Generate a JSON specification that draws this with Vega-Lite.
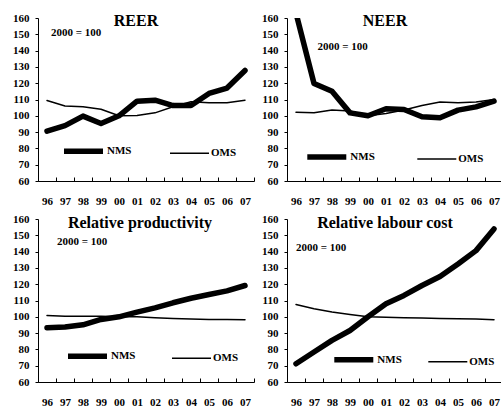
{
  "$schema": "https://vega.github.io/schema/vega-lite/v6.json",
  "background": "white",
  "padding": {"left": 12, "top": 12, "right": 0, "bottom": 0},
  "datasets": {
    "reer": [
      {"year": "96", "series": "NMS", "value": 90.6}, {"year": "97", "series": "NMS", "value": 94}, {"year": "98", "series": "NMS", "value": 99.8}, {"year": "99", "series": "NMS", "value": 95.3}, {"year": "00", "series": "NMS", "value": 100}, {"year": "01", "series": "NMS", "value": 109}, {"year": "02", "series": "NMS", "value": 109.6}, {"year": "03", "series": "NMS", "value": 106.3}, {"year": "04", "series": "NMS", "value": 106.3}, {"year": "05", "series": "NMS", "value": 113.7}, {"year": "06", "series": "NMS", "value": 117}, {"year": "07", "series": "NMS", "value": 127.8},
      {"year": "96", "series": "OMS", "value": 109.4}, {"year": "97", "series": "OMS", "value": 106}, {"year": "98", "series": "OMS", "value": 105.5}, {"year": "99", "series": "OMS", "value": 104}, {"year": "00", "series": "OMS", "value": 100}, {"year": "01", "series": "OMS", "value": 100.2}, {"year": "02", "series": "OMS", "value": 101.8}, {"year": "03", "series": "OMS", "value": 105.5}, {"year": "04", "series": "OMS", "value": 108.6}, {"year": "05", "series": "OMS", "value": 108}, {"year": "06", "series": "OMS", "value": 108}, {"year": "07", "series": "OMS", "value": 109.6}
    ],
    "neer": [
      {"year": "96", "series": "NMS", "value": 163}, {"year": "97", "series": "NMS", "value": 119.8}, {"year": "98", "series": "NMS", "value": 115}, {"year": "99", "series": "NMS", "value": 101.8}, {"year": "00", "series": "NMS", "value": 100}, {"year": "01", "series": "NMS", "value": 104.3}, {"year": "02", "series": "NMS", "value": 103.9}, {"year": "03", "series": "NMS", "value": 99.4}, {"year": "04", "series": "NMS", "value": 98.8}, {"year": "05", "series": "NMS", "value": 103.5}, {"year": "06", "series": "NMS", "value": 105.5}, {"year": "07", "series": "NMS", "value": 109},
      {"year": "96", "series": "OMS", "value": 102.2}, {"year": "97", "series": "OMS", "value": 101.8}, {"year": "98", "series": "OMS", "value": 103.5}, {"year": "99", "series": "OMS", "value": 102.9}, {"year": "00", "series": "OMS", "value": 100}, {"year": "01", "series": "OMS", "value": 101.4}, {"year": "02", "series": "OMS", "value": 103.5}, {"year": "03", "series": "OMS", "value": 106.3}, {"year": "04", "series": "OMS", "value": 108.4}, {"year": "05", "series": "OMS", "value": 108}, {"year": "06", "series": "OMS", "value": 108.4}, {"year": "07", "series": "OMS", "value": 110}
    ],
    "prod": [
      {"year": "96", "series": "NMS", "value": 93.3}, {"year": "97", "series": "NMS", "value": 93.7}, {"year": "98", "series": "NMS", "value": 95.1}, {"year": "99", "series": "NMS", "value": 98.4}, {"year": "00", "series": "NMS", "value": 100}, {"year": "01", "series": "NMS", "value": 102.9}, {"year": "02", "series": "NMS", "value": 105.5}, {"year": "03", "series": "NMS", "value": 108.6}, {"year": "04", "series": "NMS", "value": 111.4}, {"year": "05", "series": "NMS", "value": 113.7}, {"year": "06", "series": "NMS", "value": 115.9}, {"year": "07", "series": "NMS", "value": 119.2},
      {"year": "96", "series": "OMS", "value": 100.8}, {"year": "97", "series": "OMS", "value": 100.4}, {"year": "98", "series": "OMS", "value": 100.4}, {"year": "99", "series": "OMS", "value": 100.4}, {"year": "00", "series": "OMS", "value": 100}, {"year": "01", "series": "OMS", "value": 100}, {"year": "02", "series": "OMS", "value": 99.4}, {"year": "03", "series": "OMS", "value": 99}, {"year": "04", "series": "OMS", "value": 98.6}, {"year": "05", "series": "OMS", "value": 98.4}, {"year": "06", "series": "OMS", "value": 98.4}, {"year": "07", "series": "OMS", "value": 98.2}
    ],
    "ulc": [
      {"year": "96", "series": "NMS", "value": 71.2}, {"year": "97", "series": "NMS", "value": 78.4}, {"year": "98", "series": "NMS", "value": 85.5}, {"year": "99", "series": "NMS", "value": 91.6}, {"year": "00", "series": "NMS", "value": 100}, {"year": "01", "series": "NMS", "value": 108}, {"year": "02", "series": "NMS", "value": 113.1}, {"year": "03", "series": "NMS", "value": 119.2}, {"year": "04", "series": "NMS", "value": 124.7}, {"year": "05", "series": "NMS", "value": 132.4}, {"year": "06", "series": "NMS", "value": 140.6}, {"year": "07", "series": "NMS", "value": 153.9},
      {"year": "96", "series": "OMS", "value": 107.6}, {"year": "97", "series": "OMS", "value": 104.9}, {"year": "98", "series": "OMS", "value": 102.9}, {"year": "99", "series": "OMS", "value": 101.4}, {"year": "00", "series": "OMS", "value": 100}, {"year": "01", "series": "OMS", "value": 99.8}, {"year": "02", "series": "OMS", "value": 99.4}, {"year": "03", "series": "OMS", "value": 99.2}, {"year": "04", "series": "OMS", "value": 99}, {"year": "05", "series": "OMS", "value": 98.8}, {"year": "06", "series": "OMS", "value": 98.6}, {"year": "07", "series": "OMS", "value": 98.2}
    ],
    "note": [{"label": "2000 = 100"}]
  },
  "columns": 2,
  "spacing": {"row": 7, "column": 6},
  "resolve": {"scale": {"strokeWidth": "independent"}, "legend": {"strokeWidth": "independent"}},
  "concat": [
    {
      "width": 216, "height": 163,
      "title": {"text": "REER", "offset": -17, "dx": -10},
      "layer": [
        {
          "data": {"name": "reer"},
          "mark": {"type": "line", "color": "black", "strokeCap": "round", "strokeJoin": "round", "clip": true},
          "encoding": {
            "x": {"field": "year", "type": "ordinal", "scale": {"type": "band", "domain": ["96","97","98","99","00","01","02","03","04","05","06","07"], "paddingInner": 0, "paddingOuter": 0}},
            "y": {"field": "value", "type": "quantitative", "scale": {"domain": [60, 160], "nice": false, "zero": false}, "axis": {"values": [60, 70, 80, 90, 100, 110, 120, 130, 140, 150, 160], "labelOverlap": false}},
            "strokeWidth": {"field": "series", "type": "ordinal", "scale": {"domain": ["NMS", "OMS"], "range": [5.5, 1.5]}, "legend": {"orient": "none", "legendX": 23, "legendY": 110.5, "columnPadding": 35}}
          }
        },
        {
          "data": {"name": "note"},
          "mark": {"type": "text", "align": "left", "baseline": "middle", "dx": 4, "fontSize": 11, "fontWeight": "bold", "font": "Liberation Serif", "color": "black"},
          "encoding": {"x": {"datum": "96", "type": "ordinal"}, "y": {"datum": 151, "type": "quantitative", "axis": {"values": [60, 70, 80, 90, 100, 110, 120, 130, 140, 150, 160], "labelOverlap": false}}, "text": {"field": "label"}}
        }
      ]
    },
    {
      "width": 216, "height": 163,
      "title": {"text": "NEER", "offset": -17, "dx": -10},
      "layer": [
        {
          "data": {"name": "neer"},
          "mark": {"type": "line", "color": "black", "strokeCap": "round", "strokeJoin": "round", "clip": true},
          "encoding": {
            "x": {"field": "year", "type": "ordinal", "scale": {"type": "band", "domain": ["96","97","98","99","00","01","02","03","04","05","06","07"], "paddingInner": 0, "paddingOuter": 0}},
            "y": {"field": "value", "type": "quantitative", "scale": {"domain": [60, 160], "nice": false, "zero": false}, "axis": {"values": [60, 70, 80, 90, 100, 110, 120, 130, 140, 150, 160], "labelOverlap": false}},
            "strokeWidth": {"field": "series", "type": "ordinal", "scale": {"domain": ["NMS", "OMS"], "range": [5.5, 1.5]}, "legend": {"orient": "none", "legendX": 17.3, "legendY": 116.3, "columnPadding": 39}}
          }
        },
        {
          "data": {"name": "note"},
          "mark": {"type": "text", "align": "left", "baseline": "middle", "dx": 3.5, "fontSize": 11, "fontWeight": "bold", "font": "Liberation Serif", "color": "black"},
          "encoding": {"x": {"datum": "97", "type": "ordinal"}, "y": {"datum": 142.3, "type": "quantitative", "axis": {"values": [60, 70, 80, 90, 100, 110, 120, 130, 140, 150, 160], "labelOverlap": false}}, "text": {"field": "label"}}
        }
      ]
    },
    {
      "width": 216, "height": 163,
      "title": {"text": "Relative productivity", "offset": -18, "dx": -6},
      "layer": [
        {
          "data": {"name": "prod"},
          "mark": {"type": "line", "color": "black", "strokeCap": "round", "strokeJoin": "round", "clip": true},
          "encoding": {
            "x": {"field": "year", "type": "ordinal", "scale": {"type": "band", "domain": ["96","97","98","99","00","01","02","03","04","05","06","07"], "paddingInner": 0, "paddingOuter": 0}},
            "y": {"field": "value", "type": "quantitative", "scale": {"domain": [60, 160], "nice": false, "zero": false}, "axis": {"values": [60, 70, 80, 90, 100, 110, 120, 130, 140, 150, 160], "labelOverlap": false}},
            "strokeWidth": {"field": "series", "type": "ordinal", "scale": {"domain": ["NMS", "OMS"], "range": [5.5, 1.5]}, "legend": {"orient": "none", "legendX": 27, "legendY": 114.5, "columnPadding": 33}}
          }
        },
        {
          "data": {"name": "note"},
          "mark": {"type": "text", "align": "left", "baseline": "middle", "dx": 10, "fontSize": 11, "fontWeight": "bold", "font": "Liberation Serif", "color": "black"},
          "encoding": {"x": {"datum": "96", "type": "ordinal"}, "y": {"datum": 145.7, "type": "quantitative", "axis": {"values": [60, 70, 80, 90, 100, 110, 120, 130, 140, 150, 160], "labelOverlap": false}}, "text": {"field": "label"}}
        }
      ]
    },
    {
      "width": 216, "height": 163,
      "title": {"text": "Relative labour cost", "offset": -18, "dx": -10},
      "layer": [
        {
          "data": {"name": "ulc"},
          "mark": {"type": "line", "color": "black", "strokeCap": "round", "strokeJoin": "round", "clip": true},
          "encoding": {
            "x": {"field": "year", "type": "ordinal", "scale": {"type": "band", "domain": ["96","97","98","99","00","01","02","03","04","05","06","07"], "paddingInner": 0, "paddingOuter": 0}},
            "y": {"field": "value", "type": "quantitative", "scale": {"domain": [60, 160], "nice": false, "zero": false}, "axis": {"values": [60, 70, 80, 90, 100, 110, 120, 130, 140, 150, 160], "labelOverlap": false}},
            "strokeWidth": {"field": "series", "type": "ordinal", "scale": {"domain": ["NMS", "OMS"], "range": [5.5, 1.5]}, "legend": {"orient": "none", "legendX": 44.3, "legendY": 118, "columnPadding": 23}}
          }
        },
        {
          "data": {"name": "note"},
          "mark": {"type": "text", "align": "left", "baseline": "middle", "dx": 0, "fontSize": 11, "fontWeight": "bold", "font": "Liberation Serif", "color": "black"},
          "encoding": {"x": {"datum": "96", "type": "ordinal"}, "y": {"datum": 142, "type": "quantitative", "axis": {"values": [60, 70, 80, 90, 100, 110, 120, 130, 140, 150, 160], "labelOverlap": false}}, "text": {"field": "label"}}
        }
      ]
    }
  ],
  "config": {
    "font": "Liberation Serif",
    "view": {"stroke": null},
    "style": {"guide-label": {"font": "Liberation Serif", "fontWeight": "bold", "fill": "black"}},
    "axis": {"labelFont": "Liberation Serif", "labelFontWeight": "bold", "labelFontSize": 11, "labelColor": "black", "domainColor": "black", "tickColor": "black", "grid": false, "title": null, "labelAngle": 0, "labelOverlap": false},
    "axisX": {"tickBand": "extent", "tickSize": -4, "labelPadding": 18},
    "axisY": {"tickSize": 3, "labelPadding": 6, "labelOverlap": false},
    "legend": {"direction": "horizontal", "symbolType": "stroke", "symbolSize": 1521, "symbolStrokeColor": "black", "labelFont": "Liberation Serif", "labelFontWeight": "bold", "labelFontSize": 11, "labelColor": "black", "labelOffset": 1, "title": null, "padding": 0},
    "title": {"font": "Liberation Serif", "fontSize": 16, "fontWeight": "bold", "color": "black", "anchor": "middle", "frame": "group", "baseline": "alphabetic"}
  }
}
